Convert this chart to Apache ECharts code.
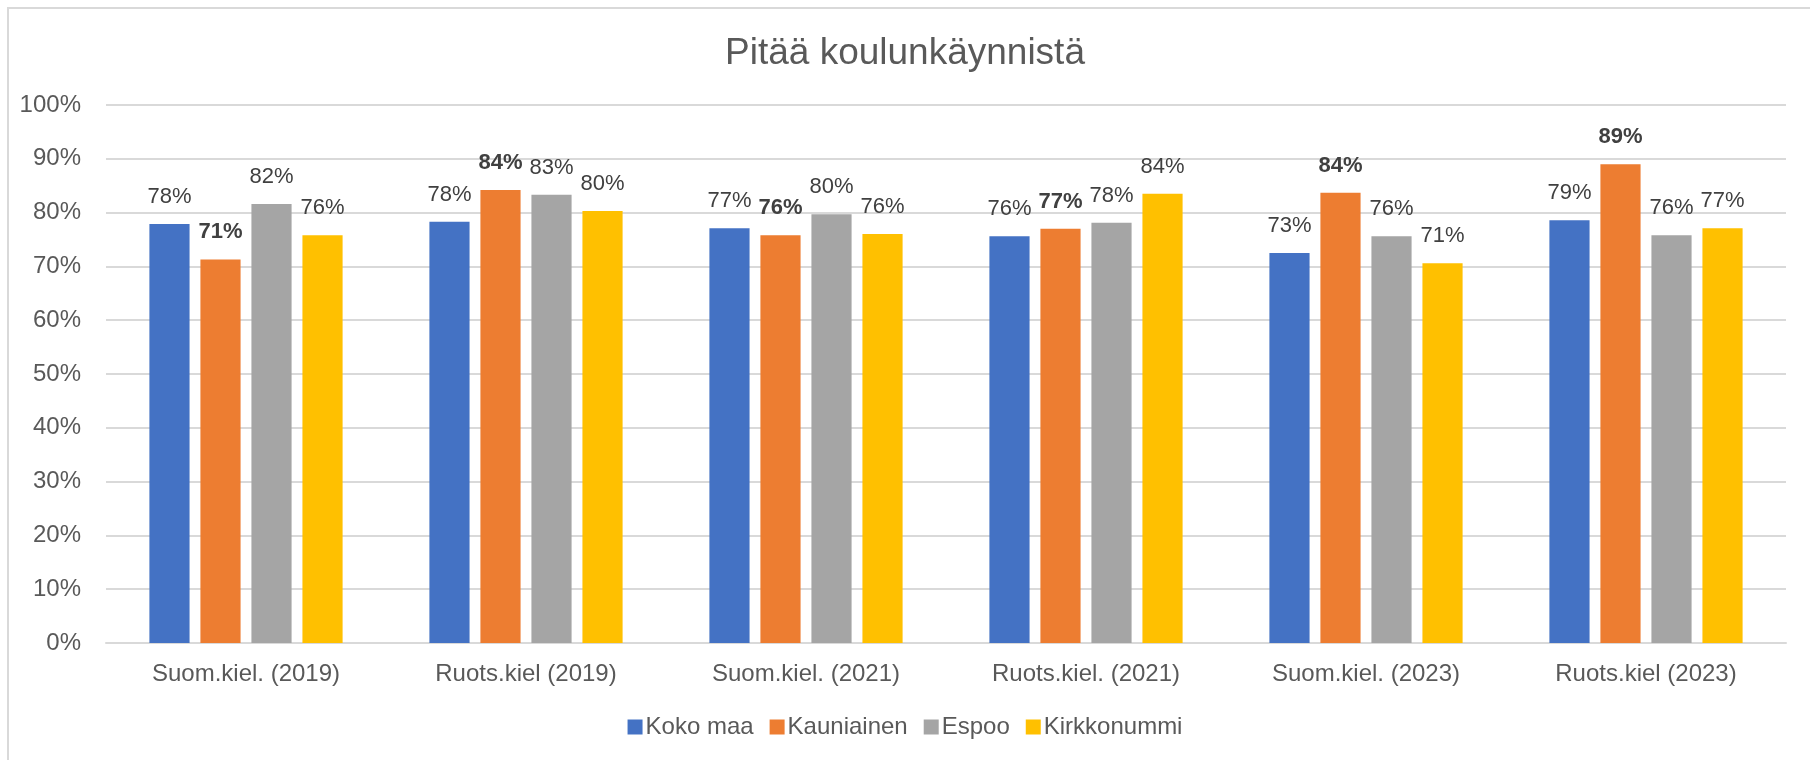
<!DOCTYPE html>
<html>
<head>
<meta charset="utf-8">
<title>Pitää koulunkäynnistä</title>
<script src="https://cdn.jsdelivr.net/npm/echarts@6/dist/echarts.min.js"></script>
<style>
    html, body { margin: 0; padding: 0; background: #fff; }
    #chart { width: 1810px; height: 760px; }
</style>
</head>
<body>
<div id="chart"></div>
<script>
const categories = ['Suom.kiel. (2019)', 'Ruots.kiel (2019)', 'Suom.kiel. (2021)', 'Ruots.kiel. (2021)', 'Suom.kiel. (2023)', 'Ruots.kiel (2023)'];
const kokoMaa = [77.9, 78.3, 77.1, 75.6, 72.5, 78.6];
const kauniainen = [71.3, 84.2, 75.8, 77.0, 83.7, 89.0];
const espoo = [81.6, 83.3, 79.7, 78.1, 75.6, 75.8];
const kirkkonummi = [75.8, 80.3, 76.0, 83.5, 70.6, 77.1];
const yTicks = [0, 10, 20, 30, 40, 50, 60, 70, 80, 90, 100];

const font = 'Liberation Sans, Arial, sans-serif';

function makeSeries(name, data, color, bold) {
    return {
        name: name,
        type: 'bar',
        data: data,
        barGap: '27%',
        barCategoryGap: '31%',
        itemStyle: { color: color },
        label: {
            show: true,
            position: 'top',
            distance: 16,
            fontFamily: font,
            fontSize: 22,
            fontWeight: bold ? 'bold' : 'normal',
            color: '#404040',
            formatter: function (p) {
                return Math.round(p.value) + '%';
            }
        }
    };
}

var chart = echarts.init(document.getElementById('chart'));
chart.setOption({
    animation: false,
    textStyle: { fontFamily: font },
    graphic: [{
        type: 'rect',
        shape: { x: 8, y: 8, width: 1900, height: 900 },
        style: { fill: 'none', stroke: '#D9D9D9', lineWidth: 2 },
        silent: true
    }],
    title: {
        text: 'Pitää koulunkäynnistä',
        left: 'center',
        top: 30,
        textStyle: { fontFamily: font, fontSize: 37, fontWeight: 'normal', color: '#595959' }
    },
    legend: {
        bottom: 16,
        left: 'center',
        itemWidth: 15,
        itemHeight: 15,
        itemGap: 16,
        icon: 'rect',
        textStyle: { fontFamily: font, fontSize: 24, color: '#595959', padding: [0, 0, 0, -2] },
        data: ['Koko maa', 'Kauniainen', 'Espoo', 'Kirkkonummi']
    },
    grid: { left: 106, right: 24, top: 105, bottom: 117 },
    xAxis: {
        type: 'category',
        data: categories,
        axisLine: { lineStyle: { color: '#D9D9D9', width: 2 } },
        axisTick: { show: false },
        axisLabel: { fontFamily: font, fontSize: 24, color: '#595959', margin: 19 }
    },
    yAxis: {
        type: 'value',
        min: yTicks[0],
        max: yTicks[yTicks.length - 1],
        interval: 10,
        axisLine: { show: false },
        axisTick: { show: false },
        splitLine: { lineStyle: { color: '#D9D9D9', width: 2 } },
        axisLabel: { fontFamily: font, fontSize: 24, color: '#595959', margin: 25, formatter: '{value}%' }
    },
    series: [
        makeSeries('Koko maa', kokoMaa, '#4472C4', false),
        makeSeries('Kauniainen', kauniainen, '#ED7D31', true),
        makeSeries('Espoo', espoo, '#A5A5A5', false),
        makeSeries('Kirkkonummi', kirkkonummi, '#FFC000', false)
    ]
});
</script>
</body>
</html>
